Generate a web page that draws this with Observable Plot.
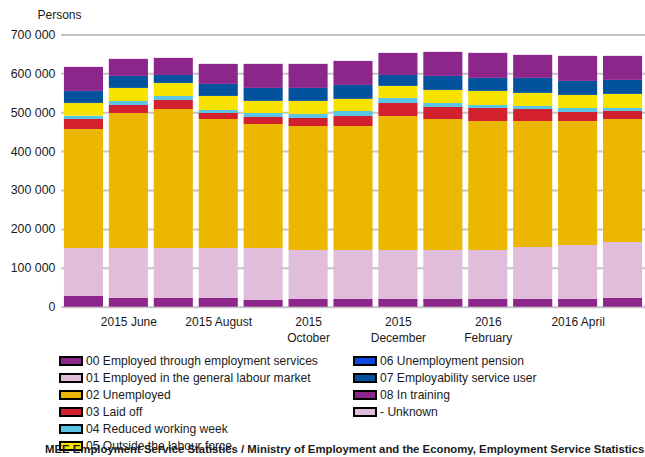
<!DOCTYPE html>
<html>
<head>
<meta charset="utf-8">
<script src="https://cdn.jsdelivr.net/npm/d3@7"></script>
<script src="https://cdn.jsdelivr.net/npm/@observablehq/plot@0.6"></script>
<style>
  body { margin: 0; background: #fff; font-family: "Liberation Sans", Arial, sans-serif; }
  #wrap { position: relative; width: 645px; height: 457px; overflow: hidden; }
  .item { position: absolute; height: 17px; display: flex; align-items: center; font-size: 12.1px; color: #1a1a1a; white-space: nowrap; }
  .sw { width: 24px; height: 10px; box-sizing: border-box; border: 2px solid #000; margin-right: 3px; }
  #footer { position: absolute; left: 45px; top: 442.5px; font-size: 11.35px; font-weight: bold; color: #1a1a1a; white-space: nowrap; }
</style>
</head>
<body>
<div id="wrap"></div>
<script>
const months = ["2015 May","2015 June","2015 July","2015 August","2015 September","2015 October","2015 November","2015 December","2016 January","2016 February","2016 March","2016 April","2016 May"];
const tickMonths = ["2015 June","2015 August","2015 October","2015 December","2016 February","2016 April"];
const tickLabels = ["2015 June","2015 August","2015\nOctober","2015\nDecember","2016\nFebruary","2016 April"];
const yTicks = [0,100000,200000,300000,400000,500000,600000,700000];

const seriesNames = ["00 Employed through employment services","01 Employed in the general labour market","02 Unemployed","03 Laid off","04 Reduced working week","05 Outside the labour force","06 Unemployment pension","07 Employability service user","08 In training","- Unknown"];
const seriesColors = ["#8c268a","#dfbddb","#ebb700","#d2202f","#5bc4e4","#f8e300","#0c47e0","#03529e","#8c268a","#dfbddb"];

const s00 = [27500,22400,22400,22400,17200,19800,19800,19800,19800,19800,19800,19800,22400];
const s01 = [123400,128500,128500,128500,133700,126000,126000,126000,126000,126000,133700,138800,143900];
const s02 = [305900,347100,357300,331600,318800,318700,318700,344400,336700,331600,323900,318800,316200];
const s03 = [25700,20500,23200,15500,18000,20600,25700,33400,30900,33400,30800,23100,20600];
const s04 = [8500,10300,10200,7700,10300,10300,12900,12900,10200,7700,7800,10300,7700];
const s05 = [32600,33400,33400,35900,30800,33400,30900,30900,33400,36000,33400,33400,36000];
const s06 = [300,300,300,300,300,300,300,300,300,300,300,300,300];
const s07 = [30900,30800,20600,30900,33400,33400,35900,28200,36000,33400,38500,36000,36000];
const s08 = [61700,43800,43700,51400,61700,61700,61700,56600,61800,64300,59200,64300,61700];
const sUnknown = [200,200,200,200,200,200,200,200,200,200,200,200,200];

const seriesValues = [s00,s01,s02,s03,s04,s05,s06,s07,s08,sUnknown];
const data = seriesNames.flatMap((name, i) => months.map((m, j) => ({month: m, series: name, value: seriesValues[i][j]})));

const fmt = d => d3.format(",")(d).replace(/,/g, " ");

const chart = Plot.plot({
  width: 645,
  height: 350,
  marginLeft: 61,
  marginRight: 0,
  marginTop: 34.4,
  marginBottom: 43.3,
  style: { fontFamily: "Liberation Sans, Arial, sans-serif", fontSize: "12px", color: "#1a1a1a", background: "#fff" },
  x: { domain: months, paddingInner: 0.13, paddingOuter: 0.065, round: false, axis: null },
  y: { domain: [0, 700000], axis: null },
  color: { domain: seriesNames, range: seriesColors },
  marks: [
    Plot.ruleY(yTicks, { stroke: "#c4c4c4", strokeWidth: 2 }),
    Plot.barY(data, { x: "month", y: "value", fill: "series" }),
    Plot.axisY({ ticks: yTicks, tickSize: 0, tickPadding: 6, tickFormat: fmt, label: null, fontSize: 12.4 }),
    Plot.axisX({ ticks: tickMonths, tickSize: 0, tickPadding: 8, tickFormat: d => tickLabels[tickMonths.indexOf(d)], label: null, lineHeight: 1.3, fontSize: 12 }),
    Plot.text(["Persons"], { frameAnchor: "top-left", dx: -24, dy: -19.5, textAnchor: "start", lineAnchor: "middle", fontSize: 12 })
  ]
});

const wrap = document.getElementById("wrap");
chart.style.position = "absolute";
chart.style.left = "0px";
chart.style.top = "0px";
wrap.appendChild(chart);

const col1 = [0,1,2,3,4,5];
const col2 = [6,7,8,9];
function addItem(idx, left, row) {
  const it = document.createElement("div");
  it.className = "item";
  it.style.left = left + "px";
  it.style.top = (352 + row * 17) + "px";
  const sw = document.createElement("div");
  sw.className = "sw";
  sw.style.background = seriesColors[idx];
  it.appendChild(sw);
  const t = document.createElement("span");
  t.textContent = seriesNames[idx];
  it.appendChild(t);
  wrap.appendChild(it);
}
col1.forEach((idx, r) => addItem(idx, 59, r));
col2.forEach((idx, r) => addItem(idx, 353, r));

const footer = document.createElement("div");
footer.id = "footer";
footer.textContent = "MEE Employment Service Statistics / Ministry of Employment and the Economy, Employment Service Statistics";
wrap.appendChild(footer);
</script>
</body>
</html>
